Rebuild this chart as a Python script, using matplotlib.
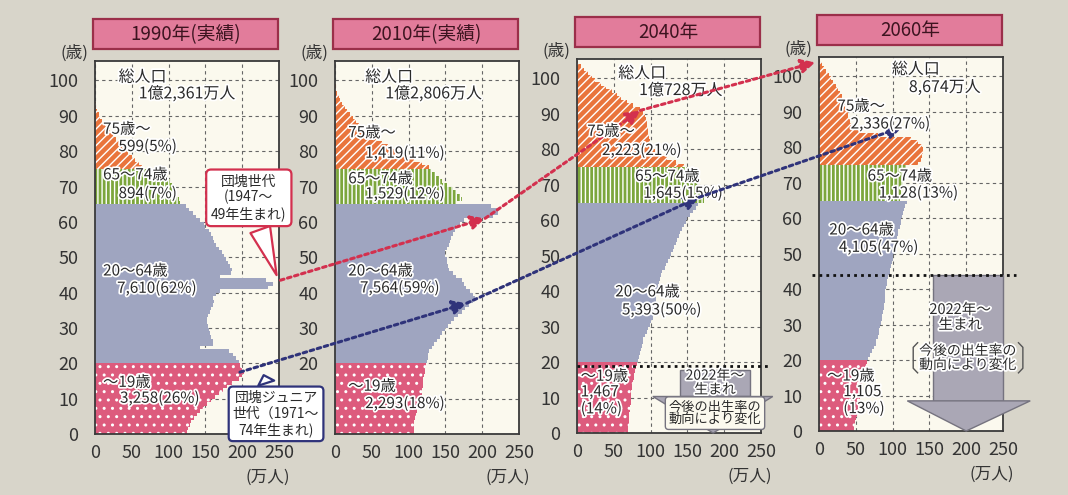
import numpy as np
import matplotlib.pyplot as plt
import matplotlib.patheffects as pe
from matplotlib.patches import Rectangle, Polygon, ConnectionPatch

plt.rcParams['font.family'] = ['Noto Sans CJK JP', 'DejaVu Sans']
plt.rcParams['hatch.linewidth'] = 1.0

# population by single year of age (万人), age 0 upward
pop_1990 = [125, 127, 129, 131, 134, 138, 143, 148, 152, 158,
            163, 168, 174, 180, 186, 195, 200, 203, 200, 197,
            195, 192, 188, 182, 142, 160, 160, 158, 156, 155,
            153, 152, 152, 154, 156, 158, 160, 162, 160, 165,
            170, 235, 242, 232, 170, 185, 186, 184, 181, 178,
            175, 172, 168, 165, 162, 160, 158, 155, 150, 148,
            142, 137, 133, 128, 124,
            116, 114, 112, 110, 108, 105, 102, 99, 96, 92,
            64, 60, 55, 50, 45, 41, 37, 32, 28, 24,
            20, 17, 13, 10, 7, 5, 3, 2, 1]
pop_2010 = [107, 107, 108, 108, 109, 110, 111, 113, 114, 115,
            116, 118, 118, 119, 120, 120, 121, 122, 122, 123,
            125, 126, 127, 128, 132, 135, 138, 142, 146, 150,
            153, 157, 162, 167, 172, 176, 182, 188, 190, 188,
            183, 178, 175, 172, 165, 160, 155, 153, 152, 152,
            150, 150, 152, 155, 156, 158, 160, 163, 165, 170,
            175, 215, 222, 220, 212,
            165, 172, 170, 166, 160, 152, 146, 141, 137, 132,
            128, 118, 108, 98, 88, 80, 72, 64, 56, 50,
            44, 38, 33, 28, 24, 20, 16, 13, 10, 7,
            5, 3, 2, 1]
pop_2040 = [69, 69, 70, 70, 71, 71, 72, 72, 73, 73,
            74, 74, 75, 75, 76, 77, 78, 79, 80, 81,
            83, 84, 85, 87, 88, 89, 90, 92, 95, 97,
            99, 101, 103, 104, 105, 106, 106, 107, 108, 108,
            109, 110, 112, 113, 114, 116, 119, 121, 124, 126,
            128, 130, 132, 134, 136, 138, 140, 143, 145, 148,
            150, 154, 158, 162, 165,
            172, 172, 170, 168, 166, 164, 162, 160, 158, 152,
            145, 135, 122, 112, 106, 102, 100, 99, 98, 97,
            96, 95, 95, 94, 93, 90, 85, 76, 68, 60,
            55, 48, 40, 32, 25, 20, 15, 9, 5, 2]
pop_2060 = [47, 48, 49, 50, 51, 52, 53, 54, 55, 56,
            56, 57, 58, 59, 60, 61, 62, 63, 64, 65,
            67, 69, 72, 75, 77, 78, 80, 81, 82, 83,
            84, 85, 86, 87, 88, 88, 89, 89, 90, 90,
            91, 92, 93, 94, 96, 97, 98, 99, 100, 101,
            102, 103, 104, 105, 106, 107, 108, 110, 111, 112,
            113, 114, 116, 117, 119,
            110, 111, 112, 113, 114, 114, 115, 115, 116, 118,
            135, 138, 140, 141, 141, 140, 135, 125, 80, 55,
            45, 43, 42, 40, 39, 38, 36, 35, 33, 31,
            29, 26, 23, 19, 16, 13, 10, 7, 4, 2]
populations = [pop_1990, pop_2010, pop_2040, pop_2060]

titles = ['1990年(実績)', '2010年(実績)', '2040年', '2060年']
totals = ['1億2,361万人', '1億2,806万人', '1億728万人', '8,674万人']

# age groups: 〜19, 20〜64, 65〜74, 75〜
group_names = ['〜19歳', '20〜64歳', '65〜74歳', '75歳〜']
group_ages = [(0, 19), (20, 64), (65, 74), (75, 200)]
group_counts = [[3258, 7610, 894, 599],
                [2293, 7564, 1529, 1419],
                [1467, 5393, 1645, 2223],
                [1105, 4105, 1128, 2336]]
group_shares = [[26, 62, 7, 5],
                [18, 59, 12, 11],
                [14, 50, 15, 21],
                [13, 47, 13, 27]]

# styling
bg = '#d8d5ca'
face = '#fbf9ee'
fill_colors = ['#dd5b7d', '#9fa5c0', '#7ca63c', '#e9743c']
fill_hatches = ['..', None, '||||', '////']
red = '#d3304e'
navy = '#2f337a'
arrow_grey = '#aaa7b5'
arrow_edge = '#75737f'
txt = '#2a2a2a'
halo = [pe.withStroke(linewidth=2.5, foreground='white')]

# axes placement in pixels: left, top, bottom (width 184)
W, H = 1068, 495
panel_px = [(95, 61, 434), (335, 61, 434), (577, 59, 433), (819, 57, 431)]

# label positions (x in 万人, y in age): [name, value] per group
label_pos = [
    [[(11, 14.6), (34, 10.1)], [(11, 46.1), (30, 41.2)], [(11, 73.3), (32, 68.0)], [(11, 86.2), (32, 81.3)]],
    [[(18, 13.5), (41, 8.6)], [(18, 46.1), (34, 41.3)], [(18, 72.2), (41, 67.9)], [(18, 85.2), (41, 79.4)]],
    [[(5, 16.0), (5, 9.2)], [(52, 39.8), (61, 34.7)], [(79, 72.4), (90, 67.6)], [(14, 85.1), (34, 79.7)]],
    [[(11, 15.5), (33, 8.7)], [(14, 56.7), (27, 51.8)], [(66, 71.9), (81, 67.1)], [(25, 91.6), (43, 86.6)]],
]
total_pos = [[(32, 100.9), (125, 96.2)], [(41, 100.9), (134, 96.2)],
             [(56, 101.4), (141, 96.6)], [(99, 102.0), (171, 96.9)]]

fig = plt.figure(figsize=(W / 100, H / 100), dpi=100, facecolor=bg)
axes = []

for p, pop in enumerate(populations):
    left, top, bottom = panel_px[p]
    ax = fig.add_axes([left / W, 1 - bottom / H, 184 / W, (bottom - top) / H])
    axes.append(ax)
    ax.set_facecolor(face)
    ax.set_xlim(0, 250)
    ax.set_ylim(0, 105.5)
    ax.set_xticks(range(0, 251, 50))
    ax.set_yticks(range(0, 101, 10))
    ax.tick_params(length=0, labelsize=13, colors='#333333')
    ax.tick_params(axis='y', pad=12)
    ax.tick_params(axis='x', pad=7)
    ax.set_axisbelow(True)
    ax.grid(True, linestyle=(0, (3, 3)), color='#666666', linewidth=0.8)
    for s in ax.spines.values():
        s.set_color('#3a3a3a')
        s.set_linewidth(1.3)

    # stepped half pyramid, one fill per age group
    pop = np.asarray(pop, float)
    ages = np.arange(len(pop))
    for g, (lo, hi) in enumerate(group_ages):
        hi = min(hi, len(pop) - 1)
        a = ages[lo:hi + 1]
        v = pop[lo:hi + 1]
        y = np.append(a, a[-1] + 1)
        x = np.append(v, v[-1])
        ax.fill_betweenx(y, 0, x, step='post', facecolor=fill_colors[g],
                         edgecolor='white', hatch=fill_hatches[g], linewidth=0, zorder=2)

    # group labels
    for g in range(4):
        n, s = group_counts[p][g], group_shares[p][g]
        if g == 0 and p >= 2:
            value = f'{n:,}\n({s}%)'
        else:
            value = f'{n:,}({s}%)'
        (nx, ny), (vx, vy) = label_pos[p][g]
        ax.text(nx, ny, group_names[g], fontsize=11, ha='left', va='center',
                color=txt, path_effects=halo, zorder=5)
        ax.text(vx, vy, value, fontsize=11, ha='left', va='center', linespacing=1.0,
                color=txt, path_effects=halo, zorder=5)

    # total population
    (tx, ty), (vx, vy) = total_pos[p]
    ax.text(tx, ty, '総人口', fontsize=11.5, ha='left', va='center', color=txt,
            path_effects=halo, zorder=5)
    ax.text(vx, vy, totals[p], fontsize=11.5, ha='center', va='center', color=txt,
            path_effects=halo, zorder=5)

    # title box
    ax.add_patch(Rectangle((-0.01, 1.032), 1.005, 0.08, transform=ax.transAxes,
                           facecolor='#e27c9b', edgecolor='#9b2f4a', linewidth=1.6,
                           clip_on=False, zorder=4))
    ax.text(0.495, 1.072, titles[p], transform=ax.transAxes, ha='center', va='center',
            fontsize=13.5, color='#3d1420', zorder=5)
    ax.text(-0.114, 1.021, '(歳)', transform=ax.transAxes, ha='center', va='center',
            fontsize=12, color='#333333')
    ax.text(0.94, -0.115, '(万人)', transform=ax.transAxes, ha='center', va='center',
            fontsize=12, color='#333333')

ax1, ax2, ax3, ax4 = axes

# the junior-generation callout sits over these two age labels of the 2010 panel
fig.canvas.draw()
for lab in ax2.get_yticklabels()[:2]:
    lab.set_visible(False)

# 2022年〜 births: dotted boundary and grey arrow
ax3.plot([0, 262], [18.8, 18.8], color='#111111', linestyle=(0, (1, 1.5)), linewidth=2,
         clip_on=False, zorder=4)
ax4.plot([-10, 268], [44, 44], color='#111111', linestyle=(0, (1, 1.5)), linewidth=2,
         clip_on=False, zorder=4)

ax3.add_patch(Rectangle((140, 10.3), 95, 7.5, facecolor=arrow_grey, edgecolor=arrow_edge,
                        linewidth=1, zorder=3, clip_on=False))
ax3.add_patch(Polygon([(103, 10.3), (266, 10.3), (185, 0)], closed=True, facecolor=arrow_grey,
                      edgecolor=arrow_edge, linewidth=1, zorder=3, clip_on=False))
ax3.text(187.5, 14.2, '2022年〜\n生まれ', ha='center', va='center', fontsize=10,
         linespacing=1.0, color=txt, path_effects=halo, zorder=5)
ax3.text(187.5, 5.6, '今後の出生率の\n動向により変化', ha='center', va='center', fontsize=9.5,
         linespacing=1.0, color=txt, zorder=5,
         bbox=dict(boxstyle='round,pad=0.25', facecolor=face, edgecolor=arrow_edge, linewidth=1))

ax4.add_patch(Rectangle((155, 8.5), 95, 35.5, facecolor=arrow_grey, edgecolor=arrow_edge,
                        linewidth=1, zorder=3, clip_on=False))
ax4.add_patch(Polygon([(120, 8.5), (287, 8.5), (200, 0)], closed=True, facecolor=arrow_grey,
                      edgecolor=arrow_edge, linewidth=1, zorder=3, clip_on=False))
ax4.text(192, 32, '2022年〜\n生まれ', ha='center', va='center', fontsize=10.5,
         linespacing=1.1, color=txt, path_effects=halo, zorder=5)
ax4.text(202, 20.6, '今後の出生率の\n動向により変化', ha='center', va='center', fontsize=10,
         linespacing=1.0, color=txt, path_effects=halo, zorder=5)
for xb, d in [(128, 6), (277, -6)]:
    ax4.plot([xb + d, xb, xb, xb + d], [24.9, 23.6, 17.7, 16.4], color='#555555',
             linewidth=1, clip_on=False, zorder=5)

# speech-bubble callouts on the 1990 panel (drawn with the next panel so they sit on top)
ax2.annotate('団塊世代\n(1947〜\n49年生まれ)', xy=(248, 44.2), xycoords=ax1.transData,
             xytext=(209, 66.8), textcoords=ax1.transData,
             ha='center', va='center', fontsize=10, linespacing=1.15, color=txt,
             annotation_clip=False, zorder=6,
             bbox=dict(boxstyle='round,pad=0.35', facecolor='white', edgecolor=red, linewidth=1.6),
             arrowprops=dict(arrowstyle='wedge,tail_width=1.5,shrink_factor=0.5',
                             facecolor='white', edgecolor=red, linewidth=1.6))
ax2.annotate('団塊ジュニア\n世代（1971〜\n74年生まれ)', xy=(228, 17.4), xycoords=ax1.transData,
             xytext=(246, 5.7), textcoords=ax1.transData,
             ha='center', va='center', fontsize=10, linespacing=1.15, color=txt,
             annotation_clip=False, zorder=6,
             bbox=dict(boxstyle='round,pad=0.3', facecolor='white', edgecolor=navy, linewidth=1.6),
             arrowprops=dict(arrowstyle='wedge,tail_width=1.2,shrink_factor=0.5',
                             facecolor='white', edgecolor=navy, linewidth=1.6))


# dotted cohort arrows linking the panels, drawn with the later panel
def link(axA, xyA, axB, xyB, color):
    con = ConnectionPatch(xyA=xyA, coordsA='data', axesA=axA, xyB=xyB, coordsB='data', axesB=axB,
                          arrowstyle='-|>,head_length=0.6,head_width=0.3', mutation_scale=14,
                          linestyle=(0, (1.2, 1.2)), linewidth=2.2, color=color, zorder=4.5)
    axB.add_artist(con)
    con.set_annotation_clip(False)
    con.set_clip_on(False)


link(ax1, (252, 43.5), ax2, (204, 61), red)
link(ax2, (204, 61), ax3, (86, 91), red)
link(ax3, (86, 91), ax4, (-5, 104), red)
link(ax1, (197, 17.5), ax2, (179, 37), navy)
link(ax2, (179, 37), ax3, (166, 66.5), navy)
link(ax3, (166, 66.5), ax4, (113, 85.7), navy)

fig.savefig('out.png', dpi=100, facecolor=fig.get_facecolor())
